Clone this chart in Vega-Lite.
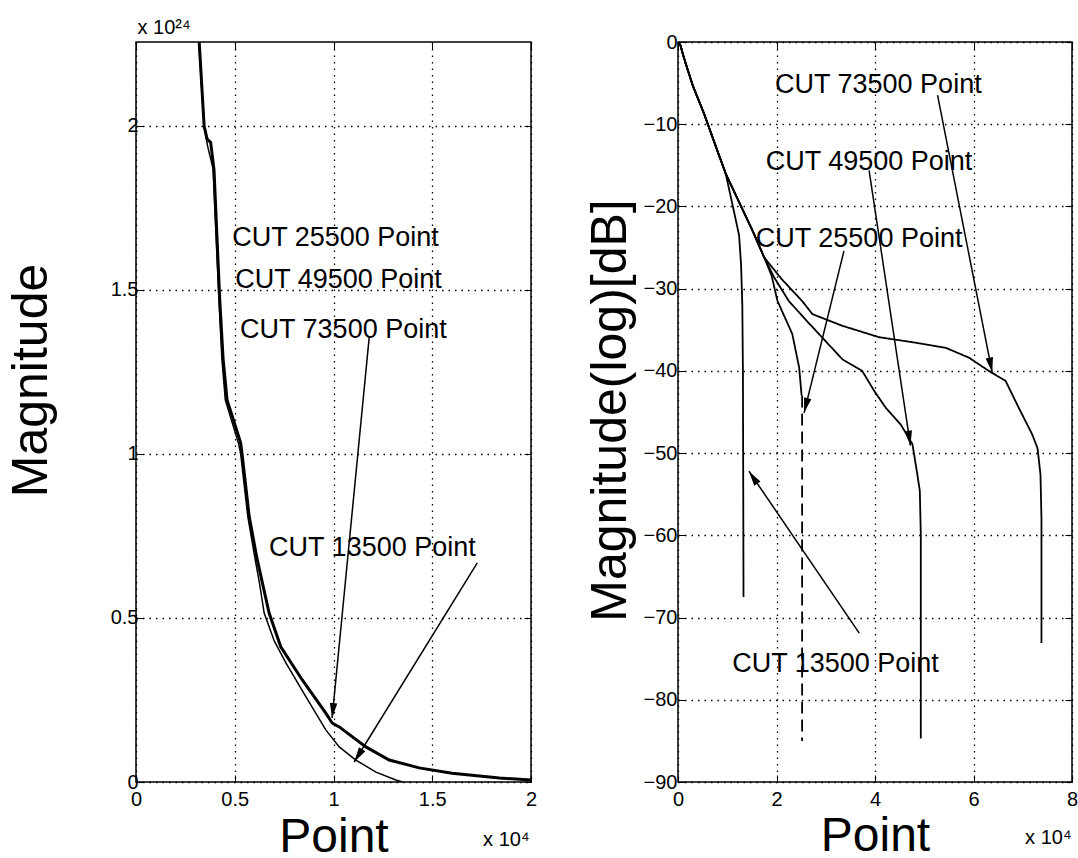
{
  "$schema": "https://vega.github.io/schema/vega-lite/v6.json",
  "autosize": {"type": "pad"},
  "padding": {"left": 5, "top": 16, "right": 5, "bottom": 0},
  "bounds": "flush",
  "spacing": 147,
  "background": "white",
  "config": {
    "view": {"stroke": "black", "strokeWidth": 1.5},
    "axis": {
      "domain": false,
      "tickColor": "black",
      "tickSize": -7,
      "tickWidth": 1,
      "labelFont": "Liberation Sans",
      "labelFontSize": 20,
      "labelColor": "black",
      "labelPadding": 5,
      "labelFlush": false,
      "titleFont": "Liberation Sans",
      "titleFontWeight": "normal",
      "titleColor": "black",
      "gridColor": "black",
      "gridDash": [1.5, 5],
      "gridWidth": 1.3,
      "gridOpacity": 1
    },
    "text": {"font": "Liberation Sans"}
  },
  "datasets": {
    "leftLines": [
      {"s": "thin", "i": 0, "x": 0.318, "y": 2.256},
      {"s": "thin", "i": 1, "x": 0.345, "y": 2.0},
      {"s": "thin", "i": 2, "x": 0.362, "y": 1.94},
      {"s": "thin", "i": 3, "x": 0.39, "y": 1.87},
      {"s": "thin", "i": 4, "x": 0.42, "y": 1.47},
      {"s": "thin", "i": 5, "x": 0.435, "y": 1.29},
      {"s": "thin", "i": 6, "x": 0.452, "y": 1.165},
      {"s": "thin", "i": 7, "x": 0.52, "y": 1.03},
      {"s": "thin", "i": 8, "x": 0.53, "y": 1.0},
      {"s": "thin", "i": 9, "x": 0.566, "y": 0.81},
      {"s": "thin", "i": 10, "x": 0.603, "y": 0.68},
      {"s": "thin", "i": 11, "x": 0.625, "y": 0.607},
      {"s": "thin", "i": 12, "x": 0.649, "y": 0.515},
      {"s": "thin", "i": 13, "x": 0.7, "y": 0.43},
      {"s": "thin", "i": 14, "x": 0.759, "y": 0.363},
      {"s": "thin", "i": 15, "x": 0.86, "y": 0.26},
      {"s": "thin", "i": 16, "x": 0.961, "y": 0.159},
      {"s": "thin", "i": 17, "x": 1.029, "y": 0.107},
      {"s": "thin", "i": 18, "x": 1.113, "y": 0.067},
      {"s": "thin", "i": 19, "x": 1.215, "y": 0.03},
      {"s": "thin", "i": 20, "x": 1.316, "y": 0.006},
      {"s": "thin", "i": 21, "x": 1.35, "y": 0.0},
      {"s": "thick", "i": 0, "x": 0.32, "y": 2.256},
      {"s": "thick", "i": 1, "x": 0.345, "y": 2.0},
      {"s": "thick", "i": 2, "x": 0.36, "y": 1.96},
      {"s": "thick", "i": 3, "x": 0.378, "y": 1.95},
      {"s": "thick", "i": 4, "x": 0.395, "y": 1.866},
      {"s": "thick", "i": 5, "x": 0.424, "y": 1.47},
      {"s": "thick", "i": 6, "x": 0.441, "y": 1.29},
      {"s": "thick", "i": 7, "x": 0.461, "y": 1.165},
      {"s": "thick", "i": 8, "x": 0.53, "y": 1.034},
      {"s": "thick", "i": 9, "x": 0.537, "y": 1.0},
      {"s": "thick", "i": 10, "x": 0.573, "y": 0.81},
      {"s": "thick", "i": 11, "x": 0.613, "y": 0.68},
      {"s": "thick", "i": 12, "x": 0.64, "y": 0.607},
      {"s": "thick", "i": 13, "x": 0.674, "y": 0.515},
      {"s": "thick", "i": 14, "x": 0.733, "y": 0.412},
      {"s": "thick", "i": 15, "x": 0.842, "y": 0.311},
      {"s": "thick", "i": 16, "x": 0.961, "y": 0.21},
      {"s": "thick", "i": 17, "x": 0.993, "y": 0.18},
      {"s": "thick", "i": 18, "x": 1.029, "y": 0.168},
      {"s": "thick", "i": 19, "x": 1.164, "y": 0.107},
      {"s": "thick", "i": 20, "x": 1.282, "y": 0.067},
      {"s": "thick", "i": 21, "x": 1.434, "y": 0.043},
      {"s": "thick", "i": 22, "x": 1.6, "y": 0.027},
      {"s": "thick", "i": 23, "x": 1.84, "y": 0.012},
      {"s": "thick", "i": 24, "x": 2.0, "y": 0.006}
    ],
    "leftArrows": [
      {"x": 1.181, "y": 1.357, "x2": 0.993, "y2": 0.195},
      {"x": 1.728, "y": 0.668, "x2": 1.105, "y2": 0.061}
    ],
    "leftLabels": [
      {"t": "CUT 25500 Point", "x": 0.487, "y": 1.659},
      {"t": "CUT 49500 Point", "x": 0.502, "y": 1.53},
      {"t": "CUT 73500 Point", "x": 0.527, "y": 1.378},
      {"t": "CUT 13500 Point", "x": 0.674, "y": 0.713}
    ],
    "rightLines": [
      {"s": "CUT 13500", "i": 0, "x": 0, "y": 0},
      {"s": "CUT 13500", "i": 1, "x": 0.05, "y": -0.4},
      {"s": "CUT 13500", "i": 2, "x": 0.1, "y": -1.5},
      {"s": "CUT 13500", "i": 3, "x": 0.156, "y": -2.6},
      {"s": "CUT 13500", "i": 4, "x": 0.3, "y": -5.3},
      {"s": "CUT 13500", "i": 5, "x": 0.528, "y": -8.7},
      {"s": "CUT 13500", "i": 6, "x": 0.75, "y": -12.4},
      {"s": "CUT 13500", "i": 7, "x": 0.968, "y": -16.0},
      {"s": "CUT 13500", "i": 8, "x": 1.1, "y": -19.6},
      {"s": "CUT 13500", "i": 9, "x": 1.24, "y": -23.5},
      {"s": "CUT 13500", "i": 10, "x": 1.28, "y": -27},
      {"s": "CUT 13500", "i": 11, "x": 1.306, "y": -32},
      {"s": "CUT 13500", "i": 12, "x": 1.318, "y": -40},
      {"s": "CUT 13500", "i": 13, "x": 1.325, "y": -55},
      {"s": "CUT 13500", "i": 14, "x": 1.33, "y": -67.5},
      {"s": "CUT 25500", "i": 0, "x": 0, "y": 0},
      {"s": "CUT 25500", "i": 1, "x": 0.05, "y": -0.4},
      {"s": "CUT 25500", "i": 2, "x": 0.1, "y": -1.5},
      {"s": "CUT 25500", "i": 3, "x": 0.156, "y": -2.6},
      {"s": "CUT 25500", "i": 4, "x": 0.3, "y": -5.3},
      {"s": "CUT 25500", "i": 5, "x": 0.528, "y": -8.7},
      {"s": "CUT 25500", "i": 6, "x": 0.75, "y": -12.4},
      {"s": "CUT 25500", "i": 7, "x": 0.968, "y": -16.0},
      {"s": "CUT 25500", "i": 8, "x": 1.25, "y": -19.6},
      {"s": "CUT 25500", "i": 9, "x": 1.51, "y": -22.9},
      {"s": "CUT 25500", "i": 10, "x": 1.75, "y": -26.2},
      {"s": "CUT 25500", "i": 11, "x": 1.9, "y": -28.4},
      {"s": "CUT 25500", "i": 12, "x": 2.02, "y": -31.5},
      {"s": "CUT 25500", "i": 13, "x": 2.32, "y": -35.5},
      {"s": "CUT 25500", "i": 14, "x": 2.46, "y": -39.6},
      {"s": "CUT 25500", "i": 15, "x": 2.51, "y": -43},
      {"s": "CUT 25500 drop", "i": 0, "x": 2.52, "y": -43},
      {"s": "CUT 25500 drop", "i": 1, "x": 2.52, "y": -85},
      {"s": "CUT 49500", "i": 0, "x": 0, "y": 0},
      {"s": "CUT 49500", "i": 1, "x": 0.05, "y": -0.4},
      {"s": "CUT 49500", "i": 2, "x": 0.1, "y": -1.5},
      {"s": "CUT 49500", "i": 3, "x": 0.156, "y": -2.6},
      {"s": "CUT 49500", "i": 4, "x": 0.3, "y": -5.3},
      {"s": "CUT 49500", "i": 5, "x": 0.528, "y": -8.7},
      {"s": "CUT 49500", "i": 6, "x": 0.75, "y": -12.4},
      {"s": "CUT 49500", "i": 7, "x": 0.968, "y": -16.0},
      {"s": "CUT 49500", "i": 8, "x": 1.25, "y": -19.6},
      {"s": "CUT 49500", "i": 9, "x": 1.51, "y": -22.9},
      {"s": "CUT 49500", "i": 10, "x": 1.75, "y": -26.2},
      {"s": "CUT 49500", "i": 11, "x": 1.95, "y": -28.6},
      {"s": "CUT 49500", "i": 12, "x": 2.25, "y": -31.5},
      {"s": "CUT 49500", "i": 13, "x": 2.55, "y": -33.5},
      {"s": "CUT 49500", "i": 14, "x": 2.86, "y": -35.5},
      {"s": "CUT 49500", "i": 15, "x": 3.34, "y": -38.6},
      {"s": "CUT 49500", "i": 16, "x": 3.74, "y": -40},
      {"s": "CUT 49500", "i": 17, "x": 3.98, "y": -42.4},
      {"s": "CUT 49500", "i": 18, "x": 4.22, "y": -44.5},
      {"s": "CUT 49500", "i": 19, "x": 4.52, "y": -46.5},
      {"s": "CUT 49500", "i": 20, "x": 4.76, "y": -48.9},
      {"s": "CUT 49500", "i": 21, "x": 4.86, "y": -52.6},
      {"s": "CUT 49500", "i": 22, "x": 4.91, "y": -54.6},
      {"s": "CUT 49500", "i": 23, "x": 4.93, "y": -60},
      {"s": "CUT 49500", "i": 24, "x": 4.93, "y": -84.7},
      {"s": "CUT 73500", "i": 0, "x": 0, "y": 0},
      {"s": "CUT 73500", "i": 1, "x": 0.05, "y": -0.4},
      {"s": "CUT 73500", "i": 2, "x": 0.1, "y": -1.5},
      {"s": "CUT 73500", "i": 3, "x": 0.156, "y": -2.6},
      {"s": "CUT 73500", "i": 4, "x": 0.3, "y": -5.3},
      {"s": "CUT 73500", "i": 5, "x": 0.528, "y": -8.7},
      {"s": "CUT 73500", "i": 6, "x": 0.75, "y": -12.4},
      {"s": "CUT 73500", "i": 7, "x": 0.968, "y": -16.0},
      {"s": "CUT 73500", "i": 8, "x": 1.25, "y": -19.6},
      {"s": "CUT 73500", "i": 9, "x": 1.51, "y": -22.9},
      {"s": "CUT 73500", "i": 10, "x": 1.75, "y": -26.2},
      {"s": "CUT 73500", "i": 11, "x": 2.1, "y": -28.8},
      {"s": "CUT 73500", "i": 12, "x": 2.52, "y": -31.5},
      {"s": "CUT 73500", "i": 13, "x": 2.73, "y": -33.1},
      {"s": "CUT 73500", "i": 14, "x": 3.33, "y": -34.5},
      {"s": "CUT 73500", "i": 15, "x": 4.08, "y": -35.9},
      {"s": "CUT 73500", "i": 16, "x": 4.75, "y": -36.5},
      {"s": "CUT 73500", "i": 17, "x": 5.44, "y": -37.2},
      {"s": "CUT 73500", "i": 18, "x": 5.91, "y": -38.4},
      {"s": "CUT 73500", "i": 19, "x": 6.31, "y": -40},
      {"s": "CUT 73500", "i": 20, "x": 6.65, "y": -41.2},
      {"s": "CUT 73500", "i": 21, "x": 6.92, "y": -44.5},
      {"s": "CUT 73500", "i": 22, "x": 7.19, "y": -47.7},
      {"s": "CUT 73500", "i": 23, "x": 7.3, "y": -49.4},
      {"s": "CUT 73500", "i": 24, "x": 7.36, "y": -52.6},
      {"s": "CUT 73500", "i": 25, "x": 7.38, "y": -58},
      {"s": "CUT 73500", "i": 26, "x": 7.38, "y": -73.1}
    ],
    "rightArrows": [
      {"x": 5.27, "y": -6.46, "x2": 6.38, "y2": -40.2},
      {"x": 3.88, "y": -15.6, "x2": 4.72, "y2": -49.1},
      {"x": 3.37, "y": -25.4, "x2": 2.56, "y2": -45.1},
      {"x": 3.68, "y": -71.9, "x2": 1.44, "y2": -52.2}
    ],
    "rightLabels": [
      {"t": "CUT 73500 Point", "x": 1.97, "y": -5.24},
      {"t": "CUT 49500 Point", "x": 1.78, "y": -14.6},
      {"t": "CUT 25500 Point", "x": 1.58, "y": -23.9},
      {"t": "CUT 13500 Point", "x": 1.1, "y": -75.6}
    ]
  },
  "hconcat": [
    {
      "width": 395,
      "height": 740,
      "layer": [
        {
          "data": {"name": "leftLines"},
          "mark": {"type": "line", "clip": true, "color": "black"},
          "encoding": {
            "x": {"field": "x", "type": "quantitative", "scale": {"domain": [0, 2], "nice": false, "zero": false},
              "axis": {"values": [0, 0.5, 1, 1.5, 2], "format": "~g", "grid": true, "labelPadding": 14,
                "title": "Point", "titleFontSize": 48, "titleY": 69, "titleBaseline": "alphabetic"}},
            "y": {"field": "y", "type": "quantitative", "scale": {"domain": [0, 2.256], "nice": false, "zero": false},
              "axis": {"values": [0, 0.5, 1, 1.5, 2], "format": "~g", "grid": true, "labelPadding": 5,
                "title": "Magnitude", "titleFontSize": 50, "titleX": -90, "titleY": 338, "titleBaseline": "alphabetic", "titleAlign": "center"}},
            "detail": {"field": "s"},
            "order": {"field": "i", "type": "quantitative"},
            "strokeWidth": {"field": "s", "type": "nominal", "scale": {"domain": ["thin", "thick"], "range": [1.5, 3]}, "legend": null}
          }
        },
        {
          "data": {"name": "leftArrows"},
          "mark": {"type": "rule", "color": "black", "strokeWidth": 1.5},
          "encoding": {
            "x": {"field": "x", "type": "quantitative", "scale": {"domain": [0, 2], "nice": false, "zero": false},
              "axis": {"orient": "top", "values": [0, 0.5, 1, 1.5, 2], "labels": false, "grid": false,
                "title": "x 10²⁴", "titleFontSize": 20, "titleX": 1, "titleY": -9, "titleAlign": "left", "titleBaseline": "alphabetic", "titleAngle": 0}},
            "y": {"field": "y", "type": "quantitative", "scale": {"domain": [0, 2.256], "nice": false, "zero": false},
              "axis": {"orient": "right", "values": [0, 0.5, 1, 1.5, 2], "labels": false, "grid": false,
                "title": "x 10⁴", "titleFontSize": 20, "titleAngle": 0, "titleX": -2, "titleY": 803, "titleAlign": "right", "titleBaseline": "alphabetic"}},
            "x2": {"field": "x2"},
            "y2": {"field": "y2"}
          }
        },
        {
          "data": {"name": "leftArrows"},
          "transform": [{"calculate": "atan2((datum.x2 - datum.x) * 197.3, (datum.y2 - datum.y) * 328) * 180 / PI", "as": "ang"}],
          "mark": {"type": "point", "filled": true, "color": "black", "opacity": 1, "shape": "M0,0L0.5,2L-0.5,2Z", "size": 225},
          "encoding": {
            "x": {"field": "x2", "type": "quantitative", "scale": {"domain": [0, 2], "nice": false, "zero": false}, "axis": null},
            "y": {"field": "y2", "type": "quantitative", "scale": {"domain": [0, 2.256], "nice": false, "zero": false}, "axis": null},
            "angle": {"field": "ang", "type": "quantitative", "scale": null}
          }
        },
        {
          "data": {"name": "leftLabels"},
          "mark": {"type": "text", "align": "left", "baseline": "middle", "fontSize": 27, "color": "black"},
          "encoding": {
            "x": {"field": "x", "type": "quantitative", "scale": {"domain": [0, 2], "nice": false, "zero": false}, "axis": null},
            "y": {"field": "y", "type": "quantitative", "scale": {"domain": [0, 2.256], "nice": false, "zero": false}, "axis": null},
            "text": {"field": "t"}
          }
        }
      ],
      "resolve": {"axis": {"x": "independent", "y": "independent"}}
    },
    {
      "width": 394,
      "height": 740,
      "layer": [
        {
          "data": {"name": "rightLines"},
          "mark": {"type": "line", "clip": true, "color": "black", "strokeWidth": 1.8},
          "encoding": {
            "x": {"field": "x", "type": "quantitative", "scale": {"domain": [0, 8], "nice": false, "zero": false},
              "axis": {"values": [0, 2, 4, 6, 8], "format": "d", "grid": true, "labelPadding": 14,
                "title": "Point", "titleFontSize": 48, "titleY": 68, "titleBaseline": "alphabetic"}},
            "y": {"field": "y", "type": "quantitative", "scale": {"domain": [-90, 0], "nice": false, "zero": false},
              "axis": {"values": [-90, -80, -70, -60, -50, -40, -30, -20, -10, 0], "format": "d", "grid": true, "labelPadding": 8,
                "title": "Magnitude(log)[dB]", "titleFontSize": 50, "titleX": -53, "titleY": 368, "titleBaseline": "alphabetic", "titleAlign": "center"}},
            "detail": {"field": "s"},
            "order": {"field": "i", "type": "quantitative"},
            "strokeDash": {"field": "s", "type": "nominal",
              "scale": {"domain": ["CUT 13500", "CUT 25500", "CUT 25500 drop", "CUT 49500", "CUT 73500"],
                "range": [[1, 0], [1, 0], [12, 6], [1, 0], [1, 0]]}, "legend": null}
          }
        },
        {
          "data": {"name": "rightArrows"},
          "mark": {"type": "rule", "color": "black", "strokeWidth": 1.5},
          "encoding": {
            "x": {"field": "x", "type": "quantitative", "scale": {"domain": [0, 8], "nice": false, "zero": false},
              "axis": {"orient": "top", "values": [0, 2, 4, 6, 8], "labels": false, "grid": false, "title": null}},
            "y": {"field": "y", "type": "quantitative", "scale": {"domain": [-90, 0], "nice": false, "zero": false},
              "axis": {"orient": "right", "values": [-90, -80, -70, -60, -50, -40, -30, -20, -10, 0], "labels": false, "grid": false,
                "title": "x 10⁴", "titleFontSize": 20, "titleAngle": 0, "titleX": -1, "titleY": 801, "titleAlign": "right", "titleBaseline": "alphabetic"}},
            "x2": {"field": "x2"},
            "y2": {"field": "y2"}
          }
        },
        {
          "data": {"name": "rightArrows"},
          "transform": [{"calculate": "atan2((datum.x2 - datum.x) * 49.25, (datum.y2 - datum.y) * 8.22) * 180 / PI", "as": "ang"}],
          "mark": {"type": "point", "filled": true, "color": "black", "opacity": 1, "shape": "M0,0L0.5,2L-0.5,2Z", "size": 225},
          "encoding": {
            "x": {"field": "x2", "type": "quantitative", "scale": {"domain": [0, 8], "nice": false, "zero": false}, "axis": null},
            "y": {"field": "y2", "type": "quantitative", "scale": {"domain": [-90, 0], "nice": false, "zero": false}, "axis": null},
            "angle": {"field": "ang", "type": "quantitative", "scale": null}
          }
        },
        {
          "data": {"name": "rightLabels"},
          "mark": {"type": "text", "align": "left", "baseline": "middle", "fontSize": 27, "color": "black"},
          "encoding": {
            "x": {"field": "x", "type": "quantitative", "scale": {"domain": [0, 8], "nice": false, "zero": false}, "axis": null},
            "y": {"field": "y", "type": "quantitative", "scale": {"domain": [-90, 0], "nice": false, "zero": false}, "axis": null},
            "text": {"field": "t"}
          }
        }
      ],
      "resolve": {"axis": {"x": "independent", "y": "independent"}}
    }
  ]
}
